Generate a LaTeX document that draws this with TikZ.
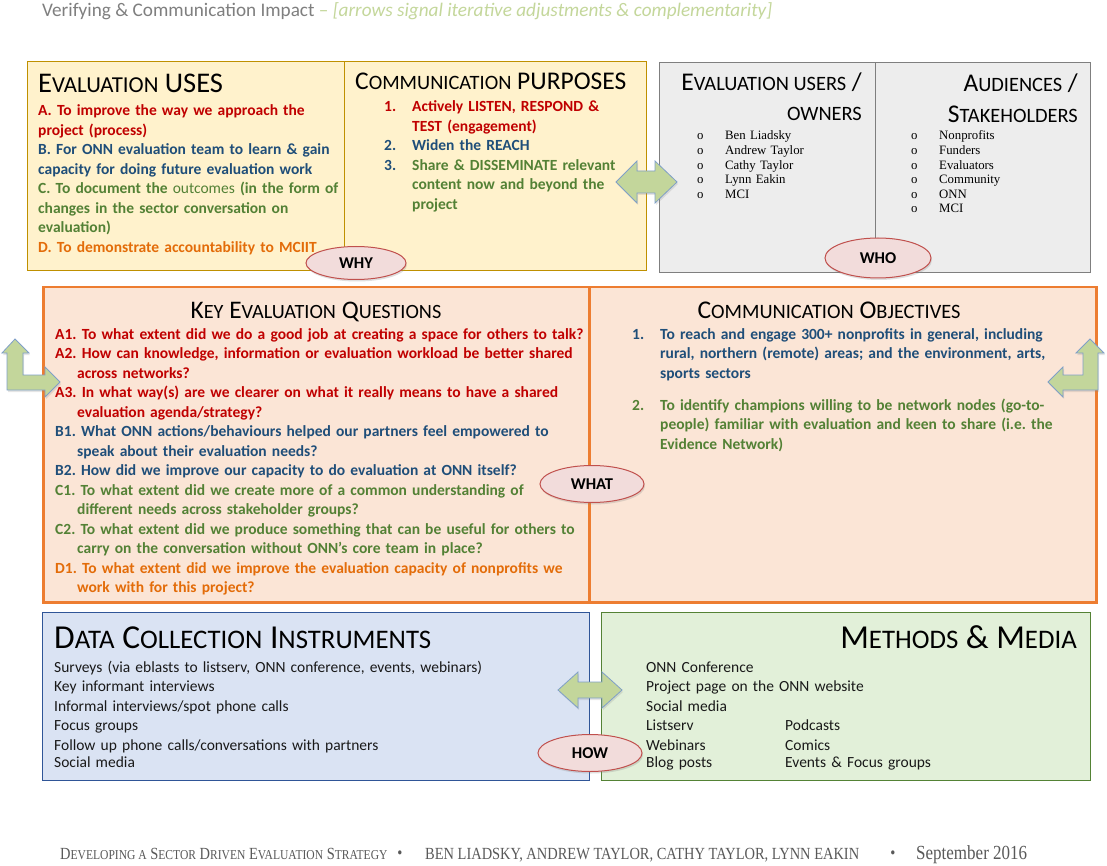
\documentclass[tikz,border=0pt]{standalone}
\usepackage{fontspec}
\setmainfont{Carlito}
\newfontfamily\listface{Liberation Serif}
\newfontfamily\footface[FakeStretch=0.85]{Liberation Serif}
\usetikzlibrary{positioning, shapes.geometric, shadows}

\definecolor{qred}{HTML}{C00000}
\definecolor{qblue}{HTML}{1F4E79}
\definecolor{qgreen}{HTML}{538135}
\definecolor{qorange}{HTML}{E36C09}
\definecolor{yellowfill}{HTML}{FFF2CC}
\definecolor{yellowline}{HTML}{BF9000}
\definecolor{greyfill}{HTML}{EDEDED}
\definecolor{greyline}{HTML}{7F7F7F}
\definecolor{peachfill}{HTML}{FBE5D6}
\definecolor{peachline}{HTML}{ED7D31}
\definecolor{bluefill}{HTML}{DAE3F3}
\definecolor{blueline}{HTML}{2F5597}
\definecolor{greenfill}{HTML}{E2F0D9}
\definecolor{greenline}{HTML}{548235}
\definecolor{tagfill}{HTML}{F2DCDB}
\definecolor{tagline}{HTML}{C0504D}
\definecolor{arrowfill}{HTML}{C3D69B}
\definecolor{arrowline}{HTML}{7F9FC8}
\definecolor{titlegrey}{HTML}{7F7F7F}
\definecolor{titlegreen}{HTML}{C4D79B}
\definecolor{footgrey}{HTML}{595959}

% fake small capitals
\newcommand{\smc}[1]{\scalebox{0.8}{#1}}
\newcommand{\headfont}{\fontsize{25.5}{30}\selectfont}
\newcommand{\bodyfont}{\fontsize{15.5}{19.5}\selectfont}

\tikzset{
  panel/.style={draw, line width=1pt, inner sep=0pt, anchor=north west},
  body/.style={inner sep=0pt, anchor=base west, align=left, font=\bodyfont\bfseries},
  plain/.style={inner sep=0pt, anchor=base west, align=left, font=\bodyfont, text=black!90},
  head/.style={inner sep=0pt, font=\headfont},
  names/.style={inner sep=0pt, anchor=base west, align=left, font=\listface\fontsize{12.8}{14.6}\selectfont},
  foot/.style={inner sep=0pt, anchor=base west, font=\footface\fontsize{17}{17}\selectfont, text=footgrey},
  tag/.style={ellipse, draw=tagline, fill=tagfill, line width=1pt, inner sep=0pt,
    minimum width=102pt, minimum height=36pt, font=\fontsize{16.5}{16.5}\selectfont\bfseries,
    drop shadow={opacity=0.25, shadow xshift=1pt, shadow yshift=-2pt}},
  blockarrow/.style={draw=arrowline, fill=arrowfill, line width=0.8pt, line join=miter,
    drop shadow={opacity=0.2, shadow xshift=1pt, shadow yshift=-2pt}},
}

\begin{document}
\frenchspacing
\begin{tikzpicture}[x=1pt, y=-1pt]
\useasboundingbox[fill=white] (0,0) rectangle (1107,866);

% title
\node[inner sep=0pt, anchor=base west, font=\fontsize{19.2}{20}\selectfont] (title) at (42,17)
  {\textcolor{titlegrey}{Verifying \& Communication Impact} \textcolor{titlegreen}{-- \itshape[arrows signal iterative adjustments \& complementarity]}};

% WHY panels
\node[panel, draw=yellowline, fill=yellowfill, minimum width=317pt, minimum height=209pt] (uses) at (27,61) {};
\node[panel, draw=yellowline, fill=yellowfill, minimum width=302pt, minimum height=209pt] (purposes) at (344,61) {};
% WHO panels
\node[panel, draw=greyline, fill=greyfill, minimum width=216pt, minimum height=210pt] (owners) at (659,62) {};
\node[panel, draw=greyline, fill=greyfill, minimum width=215pt, minimum height=210pt] (audiences) at (875,62) {};
% WHAT panels
\node[panel, draw=peachline, fill=peachfill, line width=2.5pt, minimum width=546pt, minimum height=315pt] (questions) at (42,286) {};
\node[panel, draw=peachline, fill=peachfill, line width=2.5pt, minimum width=507pt, minimum height=315pt] (objectives) at (588,286) {};
% HOW panels
\node[panel, draw=blueline, fill=bluefill, minimum width=547pt, minimum height=168pt] (instruments) at (42,612) {};
\node[panel, draw=greenline, fill=greenfill, minimum width=489pt, minimum height=168pt] (media) at (601,612) {};

% evaluation uses
\node[head, anchor=base west, font=\fontsize{28.5}{30}\selectfont] (usesh) at (38,93) {E\smc{VALUATION} USES};
\node[body, text width=310pt] (usestxt) at (38,116) {%
  \color{qred}A. To improve the way we approach the\\project (process)\\
  \color{qblue}B. For ONN evaluation team to learn \& gain\\capacity for doing future evaluation work\\
  \color{qgreen}C. To document the \mdseries outcomes \bfseries (in the form of\\changes in the sector conversation on\\evaluation)\\
  \color{qorange}D. To demonstrate accountability to MCIIT};

% communication purposes
\node[head, anchor=base west] (purph) at (355,90) {C\smc{OMMUNICATION} PURPOSES};
\node[body, text width=260pt] (purptxt) at (384,112) {%
  \makebox[28pt][l]{\color{qred}1.}\color{qred}Actively LISTEN, RESPOND \&\\\hspace*{28pt}TEST (engagement)\\
  \makebox[28pt][l]{\color{qblue}2.}\color{qblue}Widen the REACH\\
  \makebox[28pt][l]{\color{qblue}3.}\color{qgreen}Share \& DISSEMINATE relevant\\\hspace*{28pt}content now and beyond the\\\hspace*{28pt}project};

% evaluation users / owners
\node[head, anchor=base east] (ownh1) at (862,91) {E\smc{VALUATION USERS} /};
\node[head, anchor=base east] (ownh2) at (862,121) {\smc{OWNERS}};
\node[names, text width=150pt] (owntxt) at (697,140) {%
  \makebox[28pt][l]{o}Ben Liadsky\\\makebox[28pt][l]{o}Andrew Taylor\\\makebox[28pt][l]{o}Cathy Taylor\\
  \makebox[28pt][l]{o}Lynn Eakin\\\makebox[28pt][l]{o}MCI};

% audiences / stakeholders
\node[head, anchor=base east] (audh1) at (1078,92) {A\smc{UDIENCES} /};
\node[head, anchor=base east] (audh2) at (1078,123) {S\smc{TAKEHOLDERS}};
\node[names, text width=150pt] (audtxt) at (911,140) {%
  \makebox[28pt][l]{o}Nonprofits\\\makebox[28pt][l]{o}Funders\\\makebox[28pt][l]{o}Evaluators\\
  \makebox[28pt][l]{o}Community\\\makebox[28pt][l]{o}ONN\\\makebox[28pt][l]{o}MCI};

% key evaluation questions
\node[head, anchor=base, font=\fontsize{25.3}{26}\selectfont] (questh) at (316,318) {K\smc{EY} E\smc{VALUATION} Q\smc{UESTIONS}};
\node[body, text width=530pt] (questtxt) at (55,339) {%
  \color{qred}A1. To what extent did we do a good job at creating a space for others to talk?\\
  A2. How can knowledge, information or evaluation workload be better shared\\\hspace*{22pt}across networks?\\
  A3. In what way(s) are we clearer on what it really means to have a shared\\\hspace*{22pt}evaluation agenda/strategy?\\
  \color{qblue}B1. What ONN actions/behaviours helped our partners feel empowered to\\\hspace*{22pt}speak about their evaluation needs?\\
  B2. How did we improve our capacity to do evaluation at ONN itself?\\
  \color{qgreen}C1. To what extent did we create more of a common understanding of\\\hspace*{22pt}different needs across stakeholder groups?\\
  C2. To what extent did we produce something that can be useful for others to\\\hspace*{22pt}carry on the conversation without ONN's core team in place?\\
  \color{qorange}D1. To what extent did we improve the evaluation capacity of nonprofits we\\\hspace*{22pt}work with for this project?};

% communication objectives
\node[head, anchor=base, font=\fontsize{25.5}{26}\selectfont] (objh) at (829,318) {C\smc{OMMUNICATION} O\smc{BJECTIVES}};
\node[body, text width=450pt] (objtxt) at (632,339) {%
  \color{qblue}\makebox[28pt][l]{1.}To reach and engage 300+ nonprofits in general, including\\
  \hspace*{28pt}rural, northern (remote) areas; and the environment, arts,\\
  \hspace*{28pt}sports sectors\\[12.5pt]
  \color{qgreen}\makebox[28pt][l]{2.}To identify champions willing to be network nodes (go-to-\\
  \hspace*{28pt}people) familiar with evaluation and keen to share (i.e. the\\
  \hspace*{28pt}Evidence Network)};

% data collection instruments
\node[head, anchor=base west, font=\fontsize{33.5}{34}\selectfont] (insth) at (54,648) {D\smc{ATA} C\smc{OLLECTION} I\smc{NSTRUMENTS}};
\node[plain, text width=500pt] (insttxt) at (54,672) {%
  Surveys (via eblasts to listserv, ONN conference, events, webinars)\\
  Key informant interviews\\
  Informal interviews/spot phone calls\\
  Focus groups\\
  Follow up phone calls/conversations with partners\\[-2.5pt]
  Social media};

% methods & media
\node[head, anchor=base east, font=\fontsize{33.5}{34}\selectfont] (mediah) at (1077,648) {M\smc{ETHODS} \& M\smc{EDIA}};
\node[plain, text width=400pt] (mediatxt) at (646,672) {%
  ONN Conference\\
  Project page on the ONN website\\
  Social media\\
  \makebox[139pt][l]{Listserv}Podcasts\\
  \makebox[139pt][l]{Webinars}Comics\\[-2.5pt]
  \makebox[139pt][l]{Blog posts}Events \& Focus groups};

% block arrows
\draw[blockarrow] (616,182) -- (637,161) -- (637,171) -- (655,171) -- (655,161) -- (677,182)
  -- (655,203) -- (655,193) -- (637,193) -- (637,203) -- cycle;
\draw[blockarrow] (558,690) -- (578,672) -- (578,682) -- (602,682) -- (602,672) -- (622,690)
  -- (602,708) -- (602,698) -- (578,698) -- (578,708) -- cycle;
\draw[blockarrow] (15,339) -- (29,353) -- (23,353) -- (23,375) -- (45,375) -- (45,367) -- (60,382)
  -- (45,397) -- (45,390) -- (7,390) -- (7,353) -- (2,353) -- cycle;
\draw[blockarrow] (1090,339) -- (1104,353) -- (1098,353) -- (1098,390) -- (1063,390) -- (1063,397)
  -- (1048,382) -- (1063,367) -- (1063,375) -- (1083,375) -- (1083,353) -- (1076,353) -- cycle;

% question tags
\node[tag, minimum width=100pt, minimum height=33pt] (why) at (356,263) {WHY};
\node[tag, minimum width=106pt, minimum height=40pt] (who) at (878,258) {WHO};
\node[tag, minimum width=104pt, minimum height=37pt] (what) at (592,484) {WHAT};
\node[tag, minimum width=104pt, minimum height=37pt] (how) at (590,753) {HOW};

% footer
\node[foot] (foot1) at (60,859)
  {D\smc{EVELOPING A} S\smc{ECTOR} D\smc{RIVEN} E\smc{VALUATION} S\smc{TRATEGY}};
\node[foot, anchor=base] (dot1) at (400,858) {\textbullet};
\node[foot] (foot2) at (425,859) {BEN LIADSKY, ANDREW TAYLOR, CATHY TAYLOR, LYNN EAKIN};
\node[foot, anchor=base] (dot2) at (893,858) {\textbullet};
\node[foot, font=\footface\fontsize{20}{20}\selectfont] (foot3) at (916,859) {September 2016};
\end{tikzpicture}
\end{document}
